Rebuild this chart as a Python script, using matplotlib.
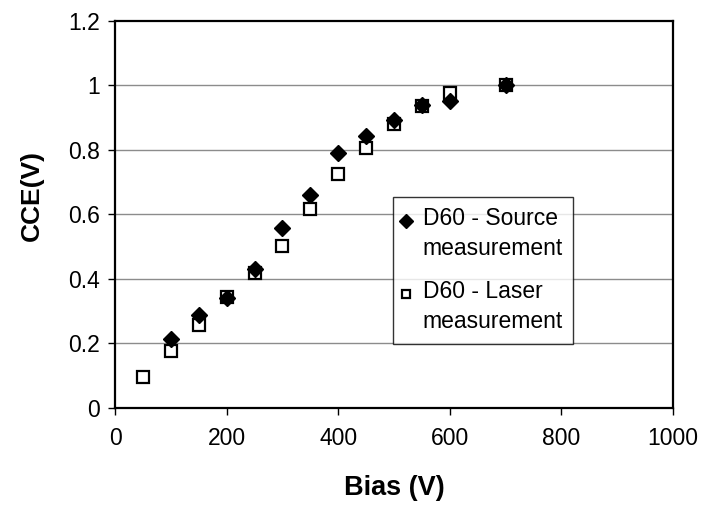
import matplotlib
matplotlib.use("Agg")
import matplotlib.pyplot as plt
from matplotlib.legend_handler import HandlerLine2D

plt.rcParams['font.family'] = ['Liberation Sans', 'DejaVu Sans']

# bias voltage (V) and charge collection efficiency
source_bias = [100, 150, 200, 250, 300, 350, 400, 450, 500, 550, 600, 700]
source_cce = [0.213, 0.288, 0.342, 0.430, 0.558, 0.661, 0.789, 0.844,
              0.892, 0.939, 0.952, 1.0]

laser_bias = [50, 100, 150, 200, 250, 300, 350, 400, 450, 500, 550, 600, 700]
laser_cce = [0.095, 0.177, 0.257, 0.344, 0.418, 0.503, 0.618, 0.725,
             0.807, 0.880, 0.935, 0.977, 1.0]

x_ticks = [0, 200, 400, 600, 800, 1000]
y_ticks = [0, 0.2, 0.4, 0.6, 0.8, 1.0, 1.2]
y_tick_labels = ["0", "0.2", "0.4", "0.6", "0.8", "1", "1.2"]


class HandlerTopMarker(HandlerLine2D):
    """Smaller legend marker, level with the first line of a 2-line label."""
    def __init__(self, shift, scale, **kw):
        super().__init__(**kw)
        self.shift = shift
        self.scale = scale

    def create_artists(self, legend, orig_handle, xdescent, ydescent,
                       width, height, fontsize, trans):
        artists = super().create_artists(legend, orig_handle, xdescent,
                                         ydescent, width, height, fontsize,
                                         trans)
        for a in artists:
            a.set_ydata([y + self.shift * fontsize for y in a.get_ydata()])
            a.set_markersize(a.get_markersize() * self.scale)
        return artists


fig = plt.figure(figsize=(7.1, 5.08), dpi=100)
ax = fig.add_axes([0.162, 0.197, 0.786, 0.762])

src, = ax.plot(source_bias, source_cce, linestyle="none", marker="D",
               markersize=8.5, color="black",
               label="D60 - Source\nmeasurement", zorder=4)
las, = ax.plot(laser_bias, laser_cce, linestyle="none", marker="s",
               markersize=8, markerfacecolor="white", markeredgecolor="black",
               markeredgewidth=1.6, label="D60 - Laser\nmeasurement", zorder=3)

ax.set_xlim(0, 1000)
ax.set_ylim(0, 1.2)
ax.set_xticks(x_ticks)
ax.set_yticks(y_ticks)
ax.set_yticklabels(y_tick_labels)

for y in y_ticks[1:-1]:
    ax.axhline(y, color="#8c8c8c", linewidth=1.0, zorder=1)

for side in ["left", "right", "top", "bottom"]:
    ax.spines[side].set_linewidth(1.6)
    ax.spines[side].set_color("black")

ax.tick_params(axis="both", direction="out", length=5, width=1, labelsize=16.5)
ax.tick_params(axis="x", pad=9)
ax.tick_params(axis="y", pad=6)

ax.set_xlabel("Bias (V)", fontsize=19.5, fontweight="bold", labelpad=18)
ax.set_ylabel("CCE(V)", fontsize=19, fontweight="bold")
ax.yaxis.set_label_coords(-0.127, 0.548)

hmap = {src: HandlerTopMarker(0.6, 0.8, numpoints=1),
        las: HandlerTopMarker(0.6, 0.8, numpoints=1)}
leg = ax.legend(handles=[src, las], handler_map=hmap,
                loc="upper left", bbox_to_anchor=(0.498, 0.545), fontsize=16.5,
                frameon=True, fancybox=False, edgecolor="black",
                handlelength=0.25, handletextpad=0.6, borderpad=0.45,
                labelspacing=0.86, borderaxespad=0)
leg.get_frame().set_linewidth(1.0)
for t in leg.get_texts():
    t.set_linespacing(1.4)

fig.savefig("out.png", dpi=100)
